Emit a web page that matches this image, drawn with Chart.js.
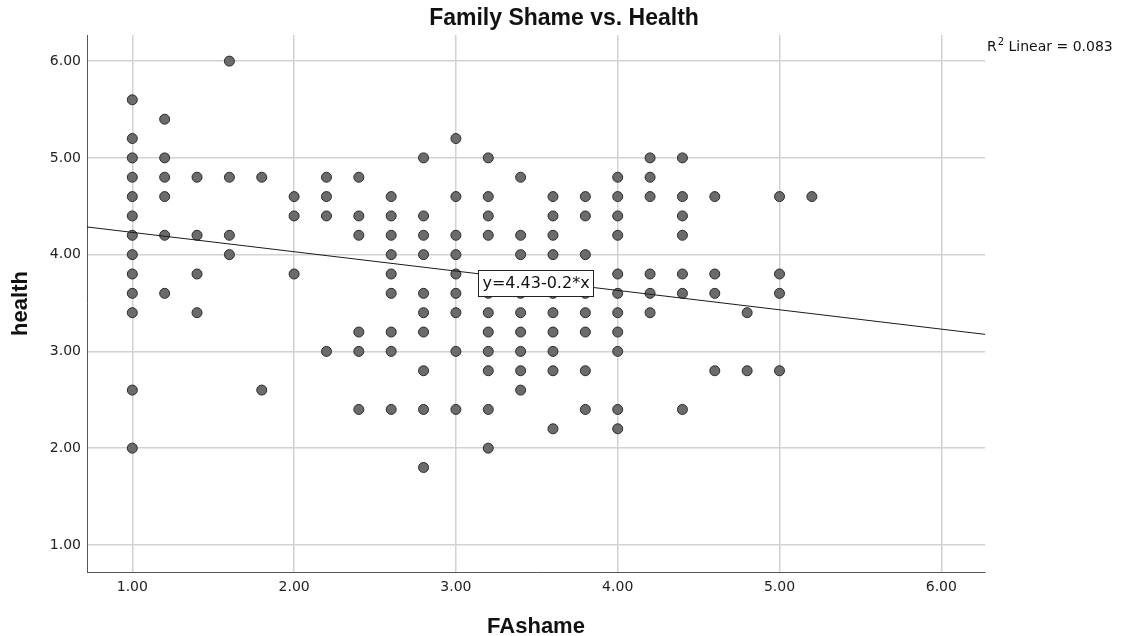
<!DOCTYPE html>
<html>
<head>
<meta charset="utf-8">
<script src="https://cdn.jsdelivr.net/npm/chart.js@4/dist/chart.umd.min.js"></script>
<style>
  html, body { margin: 0; padding: 0; background: #fff; }
</style>
</head>
<body>
<canvas id="myChart" width="1122" height="636"></canvas>
<script>
// FAshame 값 (x축 열)
const faShameLevels = [1.0, 1.2, 1.4, 1.6, 1.8, 2.0, 2.2, 2.4, 2.6, 2.8, 3.0,
  3.2, 3.4, 3.6, 3.8, 4.0, 4.2, 4.4, 4.6, 4.8, 5.0, 5.2];
// 각 열의 health 값
const healthAtLevel = [
  [5.6, 5.2, 5.0, 4.8, 4.6, 4.4, 4.2, 4.0, 3.8, 3.6, 3.4, 2.6, 2.0],
  [5.4, 5.0, 4.8, 4.6, 4.2, 3.6],
  [4.8, 4.2, 3.8, 3.4],
  [6.0, 4.8, 4.2, 4.0],
  [4.8, 2.6],
  [4.6, 4.4, 3.8],
  [4.8, 4.6, 4.4, 3.0],
  [4.8, 4.4, 4.2, 3.2, 3.0, 2.4],
  [4.6, 4.4, 4.2, 4.0, 3.8, 3.6, 3.2, 3.0, 2.4],
  [5.0, 4.4, 4.2, 4.0, 3.6, 3.4, 3.2, 2.8, 2.4, 1.8],
  [5.2, 4.6, 4.2, 4.0, 3.8, 3.6, 3.4, 3.0, 2.4],
  [5.0, 4.6, 4.4, 4.2, 3.6, 3.4, 3.2, 3.0, 2.8, 2.4, 2.0],
  [4.8, 4.2, 4.0, 3.6, 3.4, 3.2, 3.0, 2.8, 2.6],
  [4.6, 4.4, 4.2, 4.0, 3.6, 3.4, 3.2, 3.0, 2.8, 2.2],
  [4.6, 4.4, 4.0, 3.6, 3.4, 3.2, 2.8, 2.4],
  [4.8, 4.6, 4.4, 4.2, 3.8, 3.6, 3.4, 3.2, 3.0, 2.4, 2.2],
  [5.0, 4.8, 4.6, 3.8, 3.6, 3.4],
  [5.0, 4.6, 4.4, 4.2, 3.8, 3.6, 2.4],
  [4.6, 3.8, 3.6, 2.8],
  [3.4, 2.8],
  [4.6, 3.8, 3.6, 2.8],
  [4.6]
];
const axisTicks = [1, 2, 3, 4, 5, 6];
const axisMin = 0.72;
const axisMax = 6.27;
// 회귀선 y = 4.43 - 0.2*x
const fitIntercept = 4.43;
const fitSlope = -0.2;
const fitLabel = 'y=4.43-0.2*x';
const fitLabelAt = { x: 3.49, y: 3.71 };
const r2Text = ' Linear = 0.083';
const chartTitle = 'Family Shame vs. Health';

const points = [];
faShameLevels.forEach(function(fx, i) {
  healthAtLevel[i].forEach(function(h) {
    points.push({ x: fx, y: h });
  });
});
const fitLine = [
  { x: axisMin, y: fitIntercept + fitSlope * axisMin },
  { x: axisMax, y: fitIntercept + fitSlope * axisMax }
];

const tickFont = { family: 'DejaVu Sans', size: 14 };
const gridColor = '#d2d2d2';

const keepTicks = function(scale) {
  scale.ticks = axisTicks.map(function(v) { return { value: v }; });
};

// 제목, 회귀선 라벨, R2 텍스트
const notesPlugin = {
  id: 'notes',
  afterDatasetsDraw: function(chart) {
    const ctx = chart.ctx;
    ctx.save();
    // 제목
    ctx.fillStyle = '#111';
    ctx.textAlign = 'center';
    ctx.textBaseline = 'middle';
    ctx.font = 'bold 23px "Liberation Sans"';
    ctx.fillText(chartTitle, 564, 19);

    // 회귀선 라벨
    const px = chart.scales.x.getPixelForValue(fitLabelAt.x);
    const py = chart.scales.y.getPixelForValue(fitLabelAt.y);
    ctx.font = '16px "DejaVu Sans"';
    const w = Math.round(ctx.measureText(fitLabel).width + 8);
    const h = 26;
    const bx = Math.round(px - w / 2);
    const by = Math.round(py - h / 2);
    ctx.fillStyle = '#fff';
    ctx.fillRect(bx, by, w, h);
    ctx.strokeStyle = '#222';
    ctx.lineWidth = 1;
    ctx.strokeRect(bx + 0.5, by + 0.5, w, h);
    ctx.fillStyle = '#111';
    ctx.fillText(fitLabel, bx + w / 2 + 0.5, by + h / 2 + 1);

    // R2 Linear
    ctx.textAlign = 'left';
    ctx.textBaseline = 'alphabetic';
    ctx.font = '14px "DejaVu Sans"';
    let x0 = 987;
    ctx.fillText('R', x0, 51);
    x0 += ctx.measureText('R').width;
    ctx.font = '10px "DejaVu Sans"';
    ctx.fillText('2', x0 + 1, 45);
    x0 += ctx.measureText('2').width + 1;
    ctx.font = '14px "DejaVu Sans"';
    ctx.fillText(r2Text, x0, 51);
    ctx.restore();
  }
};

const config = {
  type: 'scatter',
  data: {
    datasets: [{
      type: 'line',
      label: 'fit',
      data: fitLine,
      borderColor: '#1a1a1a',
      borderWidth: 1,
      pointRadius: 0,
      fill: false
    }, {
      label: 'health',
      data: points,
      backgroundColor: '#6b6b6b',
      borderColor: '#2b2b2b',
      borderWidth: 1,
      pointRadius: 5,
      pointHoverRadius: 5
    }]
  },
  options: {
    responsive: false,
    animation: false,
    layout: { padding: { left: 0, right: 137, top: 35, bottom: 0 } },
    plugins: {
      legend: { display: false },
      tooltip: { enabled: false },
      title: { display: false }
    },
    scales: {
      x: {
        type: 'linear',
        min: axisMin,
        max: axisMax,
        afterBuildTicks: keepTicks,
        afterFit: function(scale) { scale.height = 64; },
        grid: { color: gridColor, lineWidth: 1.5, drawTicks: false },
        border: { color: '#555', width: 1 },
        ticks: {
          font: tickFont,
          color: '#222',
          padding: 7,
          maxRotation: 0,
          callback: function(v) { return v.toFixed(2); }
        },
        title: {
          display: true,
          text: 'FAshame',
          color: '#111',
          font: { family: 'Liberation Sans', size: 22, weight: 'bold', lineHeight: 1.1 },
          padding: { top: 0, bottom: -3 }
        }
      },
      y: {
        type: 'linear',
        min: axisMin,
        max: axisMax,
        afterBuildTicks: keepTicks,
        afterFit: function(scale) { scale.width = 87; },
        grid: { color: gridColor, lineWidth: 1.5, drawTicks: false },
        border: { color: '#555', width: 1 },
        ticks: {
          font: tickFont,
          color: '#222',
          padding: 6,
          callback: function(v) { return v.toFixed(2); }
        },
        title: {
          display: true,
          text: 'health',
          color: '#111',
          font: { family: 'Liberation Sans', size: 22, weight: 'bold', lineHeight: 1.2 },
          padding: { top: 8, bottom: 0 }
        }
      }
    }
  },
  plugins: [notesPlugin]
};

document.addEventListener('DOMContentLoaded', function() {
  const myChart = new Chart(document.getElementById('myChart'), config);
});
</script>
</body>
</html>
